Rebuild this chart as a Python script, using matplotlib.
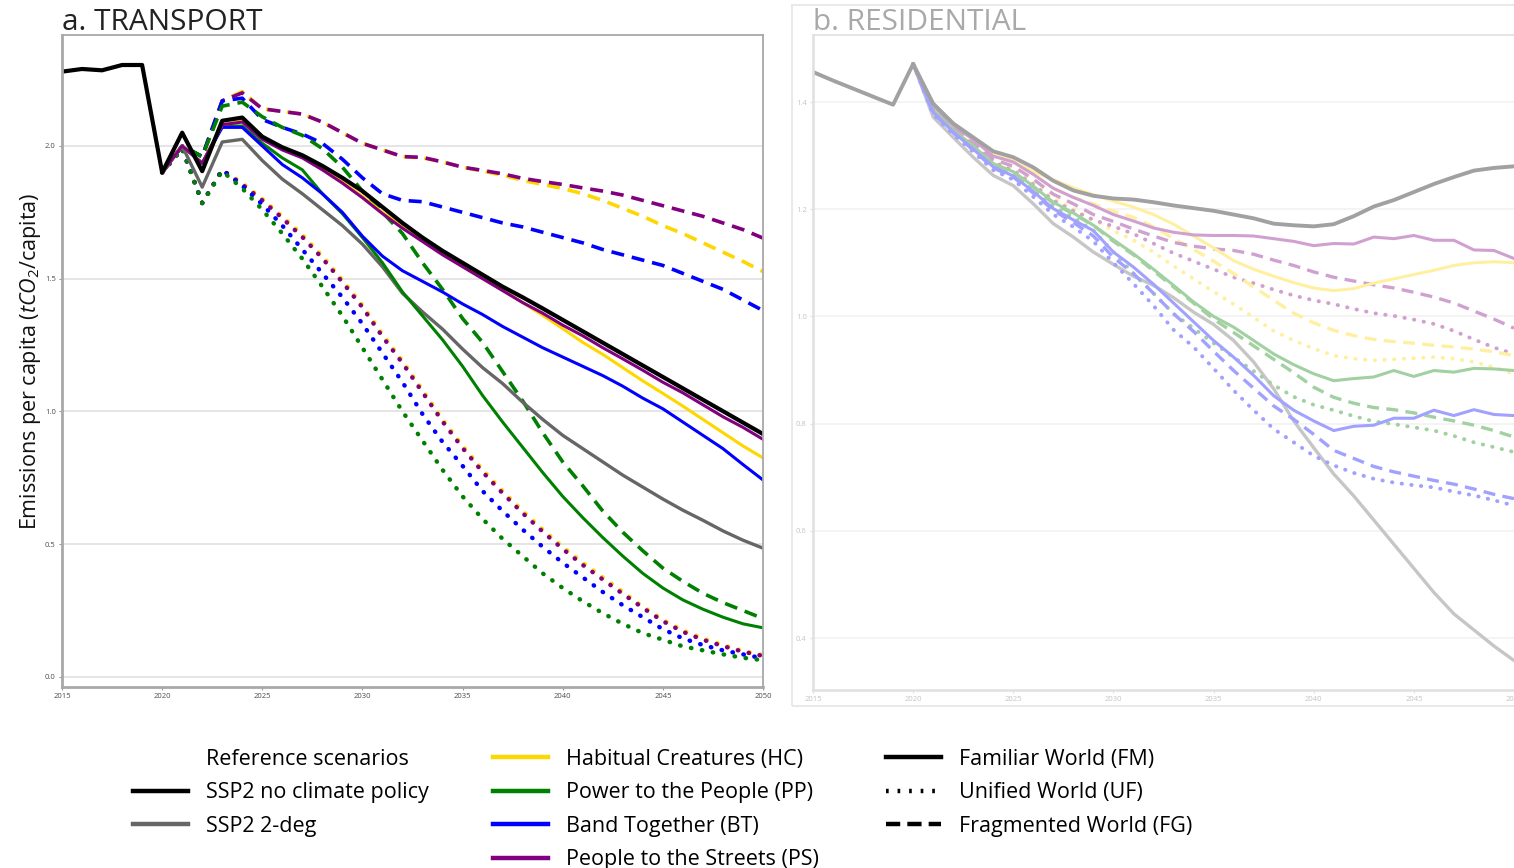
import matplotlib
matplotlib.use("Agg")
import matplotlib.pyplot as plt
from matplotlib.lines import Line2D
from matplotlib.patches import Rectangle
from matplotlib.colors import to_rgb

plt.rcParams['font.family'] = ['Open Sans', 'DejaVu Sans']
plt.rcParams['mathtext.fontset'] = 'custom'
plt.rcParams['mathtext.rm'] = 'Open Sans'
plt.rcParams['mathtext.it'] = 'Open Sans:italic'

# ---------------- data ----------------
years_hist = list(range(2015, 2051))
years_scen = list(range(2020, 2051))
x_ticks = [2015, 2020, 2025, 2030, 2035, 2040, 2045, 2050]
transport_yticks = [0.0, 0.5, 1.0, 1.5, 2.0]
residential_yticks = [0.4, 0.6, 0.8, 1.0, 1.2, 1.4]

# Transport (tCO2/capita)
tr_ssp2_noclim = [2.28, 2.29, 2.285, 2.305, 2.305, 1.90, 2.05, 1.905, 2.095, 2.107,
                  2.035, 1.995, 1.965, 1.925, 1.88, 1.83, 1.77, 1.71, 1.655, 1.605,
                  1.56, 1.515, 1.47, 1.43, 1.388, 1.345, 1.302, 1.259, 1.216, 1.173,
                  1.13, 1.087, 1.044, 1.001, 0.958, 0.915]
tr_ssp2_2deg = [1.90, 2.00, 1.845, 2.015, 2.025, 1.945, 1.875, 1.82, 1.76, 1.70, 1.63,
                1.545, 1.445, 1.375, 1.31, 1.235, 1.165, 1.105, 1.035, 0.97, 0.91,
                0.86, 0.81, 0.76, 0.715, 0.67, 0.628, 0.59, 0.55, 0.515, 0.485]
tr_HC_FM = [1.90, 2.00, 1.935, 2.08, 2.095, 2.03, 1.99, 1.96, 1.915, 1.865, 1.81,
            1.75, 1.70, 1.65, 1.60, 1.555, 1.505, 1.458, 1.41, 1.362, 1.312,
            1.26, 1.215, 1.165, 1.115, 1.068, 1.02, 0.97, 0.92, 0.87, 0.825]
tr_PS_FM = [1.90, 2.00, 1.935, 2.08, 2.09, 2.025, 1.985, 1.955, 1.91, 1.86, 1.805,
            1.745, 1.69, 1.64, 1.59, 1.545, 1.50, 1.455, 1.41, 1.37, 1.325,
            1.285, 1.24, 1.198, 1.155, 1.11, 1.07, 1.025, 0.98, 0.94, 0.895]
tr_PP_FM = [1.90, 2.00, 1.935, 2.075, 2.075, 2.01, 1.955, 1.91, 1.82, 1.745, 1.655,
            1.56, 1.45, 1.36, 1.27, 1.17, 1.06, 0.96, 0.865, 0.77, 0.68,
            0.60, 0.525, 0.455, 0.39, 0.335, 0.29, 0.255, 0.225, 0.20, 0.185]
tr_BT_FM = [1.90, 2.00, 1.935, 2.07, 2.07, 2.00, 1.93, 1.88, 1.82, 1.75, 1.66,
            1.585, 1.53, 1.49, 1.45, 1.405, 1.365, 1.32, 1.28, 1.24, 1.205,
            1.17, 1.135, 1.095, 1.05, 1.01, 0.96, 0.91, 0.86, 0.80, 0.742]
tr_HC_FG = [1.90, 2.00, 1.96, 2.17, 2.205, 2.14, 2.13, 2.12, 2.09, 2.05, 2.01,
            1.985, 1.96, 1.955, 1.94, 1.92, 1.905, 1.89, 1.87, 1.855, 1.84,
            1.82, 1.795, 1.765, 1.735, 1.70, 1.67, 1.635, 1.60, 1.565, 1.527]
tr_PS_FG = [1.90, 2.00, 1.96, 2.17, 2.20, 2.14, 2.13, 2.12, 2.09, 2.05, 2.01,
            1.985, 1.96, 1.957, 1.94, 1.92, 1.908, 1.895, 1.878, 1.866, 1.855,
            1.842, 1.83, 1.815, 1.795, 1.775, 1.755, 1.735, 1.71, 1.685, 1.653]
tr_PP_FG = [1.90, 2.00, 1.96, 2.15, 2.165, 2.11, 2.07, 2.04, 1.99, 1.92, 1.83,
            1.75, 1.67, 1.56, 1.46, 1.35, 1.26, 1.15, 1.04, 0.92, 0.81,
            0.72, 0.625, 0.545, 0.475, 0.41, 0.36, 0.315, 0.28, 0.25, 0.22]
tr_BT_FG = [1.90, 2.00, 1.96, 2.17, 2.18, 2.10, 2.07, 2.045, 2.01, 1.95, 1.88,
            1.82, 1.795, 1.79, 1.77, 1.75, 1.73, 1.71, 1.695, 1.675, 1.655,
            1.635, 1.61, 1.59, 1.57, 1.55, 1.52, 1.49, 1.46, 1.42, 1.38]
tr_HC_UF = [1.90, 1.99, 1.785, 1.91, 1.86, 1.80, 1.735, 1.665, 1.585, 1.495, 1.40,
            1.29, 1.19, 1.08, 0.97, 0.87, 0.78, 0.70, 0.625, 0.555, 0.49,
            0.43, 0.375, 0.32, 0.265, 0.215, 0.175, 0.145, 0.12, 0.098, 0.082]
tr_PS_UF = [1.90, 1.99, 1.785, 1.91, 1.855, 1.795, 1.728, 1.657, 1.577, 1.487, 1.392,
            1.282, 1.182, 1.072, 0.962, 0.862, 0.772, 0.692, 0.617, 0.547, 0.482,
            0.422, 0.367, 0.313, 0.26, 0.21, 0.17, 0.14, 0.116, 0.095, 0.079]
tr_BT_UF = [1.90, 1.99, 1.785, 1.91, 1.85, 1.78, 1.70, 1.61, 1.52, 1.43, 1.33,
            1.22, 1.11, 0.99, 0.885, 0.795, 0.70, 0.625, 0.555, 0.49, 0.43,
            0.375, 0.32, 0.27, 0.225, 0.18, 0.145, 0.12, 0.10, 0.085, 0.07]
tr_PP_UF = [1.90, 1.99, 1.785, 1.905, 1.84, 1.76, 1.67, 1.575, 1.47, 1.36, 1.24,
            1.12, 1.00, 0.89, 0.78, 0.68, 0.595, 0.52, 0.455, 0.39, 0.335,
            0.285, 0.24, 0.20, 0.165, 0.14, 0.115, 0.10, 0.085, 0.072, 0.063]

# Residential (tCO2/capita)
re_ssp2_noclim = [1.456, 1.44, 1.425, 1.41, 1.395, 1.471, 1.397, 1.36, 1.334, 1.308,
                  1.297, 1.278, 1.253, 1.235, 1.225, 1.22, 1.218, 1.213, 1.207, 1.202,
                  1.197, 1.19, 1.183, 1.173, 1.17, 1.168, 1.172, 1.187, 1.205, 1.217,
                  1.232, 1.247, 1.26, 1.272, 1.277, 1.28]
re_ssp2_2deg = [1.471, 1.372, 1.334, 1.297, 1.263, 1.244, 1.21, 1.173, 1.148, 1.12, 1.097,
                1.075, 1.058, 1.035, 1.008, 0.985, 0.955, 0.915, 0.865, 0.805, 0.755,
                0.706, 0.665, 0.62, 0.575, 0.53, 0.485, 0.445, 0.415, 0.385, 0.358]
re_HC_FM = [1.471, 1.395, 1.36, 1.33, 1.305, 1.29, 1.27, 1.255, 1.24, 1.227, 1.215,
            1.204, 1.19, 1.172, 1.15, 1.128, 1.104, 1.088, 1.075, 1.063, 1.053,
            1.048, 1.052, 1.062, 1.07, 1.078, 1.086, 1.095, 1.10, 1.102, 1.10]
re_PS_FM = [1.471, 1.393, 1.356, 1.33, 1.299, 1.288, 1.265, 1.239, 1.222, 1.207, 1.19,
            1.178, 1.165, 1.157, 1.152, 1.151, 1.151, 1.15, 1.145, 1.14, 1.132,
            1.136, 1.135, 1.148, 1.145, 1.151, 1.142, 1.142, 1.124, 1.123, 1.108]
re_PP_FM = [1.471, 1.385, 1.348, 1.318, 1.285, 1.27, 1.243, 1.213, 1.193, 1.17, 1.143,
            1.117, 1.088, 1.058, 1.027, 1.0, 0.98, 0.955, 0.93, 0.91, 0.893,
            0.88, 0.884, 0.887, 0.899, 0.888, 0.899, 0.896, 0.903, 0.902, 0.899]
re_BT_FM = [1.471, 1.381, 1.344, 1.312, 1.279, 1.262, 1.233, 1.201, 1.18, 1.16, 1.12,
            1.092, 1.06, 1.025, 0.99, 0.955, 0.924, 0.89, 0.852, 0.825, 0.805,
            0.787, 0.795, 0.797, 0.81, 0.81, 0.825, 0.815, 0.826, 0.817, 0.815]
re_HC_FG = [1.471, 1.393, 1.356, 1.33, 1.299, 1.287, 1.265, 1.239, 1.222, 1.21, 1.196,
            1.185, 1.167, 1.145, 1.125, 1.103, 1.08, 1.055, 1.03, 1.006, 0.988,
            0.974, 0.964, 0.957, 0.953, 0.95, 0.946, 0.943, 0.939, 0.934, 0.927]
re_PS_FG = [1.471, 1.39, 1.353, 1.325, 1.293, 1.28, 1.256, 1.228, 1.21, 1.19, 1.177,
            1.163, 1.15, 1.138, 1.131, 1.126, 1.123, 1.116, 1.105, 1.095, 1.083,
            1.073, 1.066, 1.059, 1.053, 1.045, 1.036, 1.025, 1.01, 0.995, 0.978]
re_PP_FG = [1.471, 1.384, 1.347, 1.317, 1.284, 1.269, 1.241, 1.211, 1.191, 1.17, 1.14,
            1.115, 1.085, 1.055, 1.025, 0.995, 0.97, 0.945, 0.92, 0.895, 0.868,
            0.849, 0.838, 0.83, 0.826, 0.82, 0.812, 0.805, 0.797, 0.787, 0.775]
re_BT_FG = [1.471, 1.38, 1.343, 1.31, 1.277, 1.26, 1.23, 1.198, 1.175, 1.15, 1.11,
            1.08, 1.043, 1.005, 0.972, 0.935, 0.899, 0.866, 0.833, 0.808, 0.78,
            0.75, 0.735, 0.72, 0.71, 0.702, 0.694, 0.687, 0.678, 0.668, 0.66]
re_HC_UF = [1.471, 1.387, 1.35, 1.321, 1.289, 1.275, 1.249, 1.22, 1.201, 1.18, 1.16,
            1.142, 1.12, 1.094, 1.07, 1.046, 1.023, 0.998, 0.973, 0.955, 0.94,
            0.927, 0.921, 0.918, 0.92, 0.922, 0.924, 0.921, 0.915, 0.905, 0.893]
re_PS_UF = [1.471, 1.386, 1.349, 1.319, 1.287, 1.272, 1.246, 1.216, 1.197, 1.18, 1.168,
            1.154, 1.136, 1.118, 1.103, 1.088, 1.073, 1.062, 1.05, 1.039, 1.03,
            1.023, 1.014, 1.006, 1.001, 0.994, 0.986, 0.973, 0.957, 0.942, 0.93]
re_PP_UF = [1.471, 1.382, 1.345, 1.314, 1.281, 1.265, 1.236, 1.205, 1.184, 1.16, 1.12,
            1.08, 1.043, 1.005, 0.978, 0.95, 0.924, 0.898, 0.872, 0.85, 0.835,
            0.825, 0.814, 0.804, 0.799, 0.793, 0.787, 0.777, 0.765, 0.756, 0.747]
re_BT_UF = [1.471, 1.377, 1.34, 1.307, 1.273, 1.255, 1.223, 1.19, 1.167, 1.14, 1.10,
            1.061, 1.02, 0.975, 0.943, 0.903, 0.862, 0.825, 0.79, 0.765, 0.74,
            0.722, 0.708, 0.697, 0.69, 0.685, 0.681, 0.673, 0.666, 0.657, 0.647]

narrative_labels = ["Habitual Creatures (HC)", "Power to the People (PP)",
                    "Band Together (BT)", "People to the Streets (PS)"]
world_labels = ["Familiar World (FM)", "Unified World (UF)", "Fragmented World (FG)"]
reference_labels = ["Reference scenarios", "SSP2 no climate policy", "SSP2 2-deg"]

# ---------------- styles ----------------
C = {"HC": "#FFD700", "PP": "#008000", "BT": "#0000FF", "PS": "#800080",
     "ref": "#000000", "2deg": "#666666"}
DOT = (0, (0.1, 2.4))
DASH = (0, (3.6, 2.2))
FADE = 0.37


def fade(c):
    r, g, b = to_rgb(c)
    return (1 - FADE * (1 - r), 1 - FADE * (1 - g), 1 - FADE * (1 - b))


W, H = 1514, 868
fig = plt.figure(figsize=(W / 100, H / 100), dpi=100)


def axbox(x0, y0, x1, y1):
    return [x0 / W, 1 - y1 / H, (x1 - x0) / W, (y1 - y0) / H]


# ---------------- panel a ----------------
ax = fig.add_axes(axbox(62, 35, 763, 687))
ax.set_xlim(2015, 2050)
ax.set_ylim(-0.038, 2.418)

tr_uf = [("HC", tr_HC_UF), ("PS", tr_PS_UF), ("BT", tr_BT_UF), ("PP", tr_PP_UF)]
tr_fg = [("HC", tr_HC_FG), ("PS", tr_PS_FG), ("BT", tr_BT_FG), ("PP", tr_PP_FG)]
tr_fm = [("PP", tr_PP_FM), ("BT", tr_BT_FM), ("HC", tr_HC_FM), ("PS", tr_PS_FM)]
for k, v in tr_uf:
    ax.plot(years_scen, v, color=C[k], lw=3.2, ls=DOT, dash_capstyle='round')
for k, v in tr_fg:
    ax.plot(years_scen, v, color=C[k], lw=2.6, ls=DASH, dash_capstyle='butt')
ax.plot(years_scen, tr_ssp2_2deg, color=C["2deg"], lw=2.4, solid_joinstyle='round')
for k, v in tr_fm:
    ax.plot(years_scen, v, color=C[k], lw=2.2, solid_joinstyle='round')
ax.plot(years_hist, tr_ssp2_noclim, color=C["ref"], lw=3.0, solid_joinstyle='round')

ax.set_xticks(x_ticks)
ax.set_yticks(transport_yticks)
ax.set_yticklabels([f"{t:.1f}" for t in transport_yticks])
ax.grid(axis='y', color='#e3e3e3', lw=1.3)
ax.grid(axis='x', visible=False)
ax.set_axisbelow(True)
ax.tick_params(labelsize=5.5, colors='#9a9a9a', labelcolor='#4d4d4d', length=2.5, width=0.8, pad=2)
for s in ax.spines.values():
    s.set_color('#a8a8a8')
    s.set_linewidth(1.3)
ax.spines['left'].set_linewidth(2.0)
ax.spines['bottom'].set_linewidth(2.0)
ax.set_ylabel(r'Emissions per capita ($tCO_2$/capita)', fontsize=15.5, color='#111111')
ax.yaxis.set_label_coords(-0.027, 0.5)
fig.text(62 / W, 1 - 30 / H, "a. TRANSPORT", fontsize=21.5, color='#222222', ha='left', va='baseline')

# ---------------- panel b (faded) ----------------
fig.add_artist(Rectangle((792 / W, 1 - 706 / H), 740 / W, 701 / H, transform=fig.transFigure,
                         fill=False, edgecolor='#e9e9e9', lw=1.5))
bx = fig.add_axes(axbox(813, 35, 1514, 690))
bx.set_xlim(2015, 2050)
bx.set_ylim(0.303, 1.525)

re_uf = [("HC", re_HC_UF), ("PS", re_PS_UF), ("PP", re_PP_UF), ("BT", re_BT_UF)]
re_fg = [("HC", re_HC_FG), ("PS", re_PS_FG), ("PP", re_PP_FG), ("BT", re_BT_FG)]
re_fm = [("HC", re_HC_FM), ("PS", re_PS_FM), ("PP", re_PP_FM), ("BT", re_BT_FM)]
bx.plot(years_scen, re_ssp2_2deg, color=fade(C["2deg"]), lw=2.4)
for k, v in re_uf:
    bx.plot(years_scen, v, color=fade(C[k]), lw=2.8, ls=DOT, dash_capstyle='round')
for k, v in re_fg:
    bx.plot(years_scen, v, color=fade(C[k]), lw=2.4, ls=DASH, dash_capstyle='butt')
for k, v in re_fm:
    bx.plot(years_scen, v, color=fade(C[k]), lw=2.2)
bx.plot(years_hist, re_ssp2_noclim, color=fade(C["ref"]), lw=2.8)

bx.set_xticks(x_ticks)
bx.set_yticks(residential_yticks)
bx.set_yticklabels([f"{t:.1f}" for t in residential_yticks])
bx.grid(axis='y', color='#f3f3f3', lw=1.3)
bx.grid(axis='x', visible=False)
bx.set_axisbelow(True)
bx.tick_params(labelsize=5.5, colors='#dddddd', labelcolor='#c4c4c4', length=2.5, width=0.8, pad=2)
for s in bx.spines.values():
    s.set_color('#e0e0e0')
    s.set_linewidth(1.2)
bx.spines['left'].set_linewidth(1.8)
bx.spines['bottom'].set_linewidth(1.8)
bx.spines['right'].set_visible(False)
fig.text(813 / W, 1 - 30 / H, "b. RESIDENTIAL", fontsize=21.5, color='#a9a9a9', ha='left', va='baseline')

# ---------------- legends ----------------
leg_kw = dict(frameon=False, fontsize=15.5, handlelength=2.56, handletextpad=0.84,
              labelspacing=0.58, borderpad=0, borderaxespad=0, loc='upper left')
ref_handles = [Line2D([], [], lw=0, color='none'),
               Line2D([], [], color=C["ref"], lw=3.2),
               Line2D([], [], color=C["2deg"], lw=3.2)]
fig.legend(ref_handles, reference_labels, bbox_to_anchor=(133 / W, 1 - 749 / H), **leg_kw)
nar_handles = [Line2D([], [], color=C[k], lw=3.2) for k in ["HC", "PP", "BT", "PS"]]
fig.legend(nar_handles, narrative_labels, bbox_to_anchor=(493 / W, 1 - 749 / H), **leg_kw)
world_handles = [Line2D([], [], color='black', lw=3.2),
                 Line2D([], [], color='black', lw=3.2, ls=(0, (0.6, 2.0))),
                 Line2D([], [], color='black', lw=3.2, ls=(0, (3.2, 1.6)))]
fig.legend(world_handles, world_labels, bbox_to_anchor=(886 / W, 1 - 749 / H), **leg_kw)

fig.savefig("out.png", dpi=100)
